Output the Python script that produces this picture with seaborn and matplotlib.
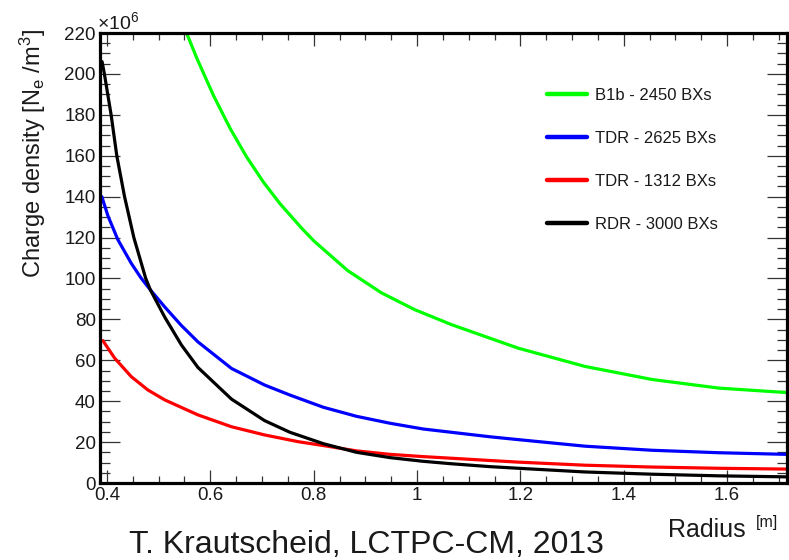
import matplotlib
matplotlib.use("Agg")
import matplotlib.pyplot as plt
from matplotlib.ticker import MultipleLocator
import pandas as pd
import seaborn as sns

# values (density in units of 1e6 N_e/m^3)
green_r = [0.554, 0.574, 0.606, 0.638, 0.670, 0.703, 0.735, 0.777, 0.801, 0.866, 0.931, 0.995,
           1.067, 1.196, 1.325, 1.455, 1.584, 1.716]
green_v = [220, 207.6, 189.5, 173.5, 159.5, 147.0, 136.5, 124.5, 118.2, 103.8, 93.0, 84.8,
           77.4, 65.9, 57.0, 50.6, 46.4, 44.2]

blue_r = [0.390, 0.402, 0.421, 0.447, 0.466, 0.484, 0.512, 0.544, 0.576, 0.641, 0.705, 0.754,
          0.819, 0.883, 0.948, 1.012, 1.141, 1.196, 1.325, 1.455, 1.584, 1.716]
blue_v = [140.0, 130.5, 119.0, 107.4, 100.2, 94.4, 86.0, 77.0, 69.0, 56.0, 47.9, 43.0,
          37.0, 32.6, 29.2, 26.4, 22.6, 21.2, 18.0, 16.0, 14.8, 14.0]

red_r = [0.392, 0.415, 0.447, 0.479, 0.512, 0.576, 0.641, 0.705, 0.770, 0.819, 0.883, 0.948,
         1.012, 1.067, 1.141, 1.196, 1.325, 1.455, 1.584, 1.716]
red_v = [69.6, 61.0, 52.0, 45.5, 40.6, 33.3, 27.5, 23.5, 20.2, 18.3, 15.7, 14.0,
         12.9, 12.1, 11.0, 10.2, 8.7, 7.8, 7.2, 6.8]

black_r = [0.3905, 0.395, 0.408, 0.419, 0.434, 0.452, 0.475, 0.484, 0.512, 0.544, 0.576, 0.641,
           0.705, 0.754, 0.819, 0.883, 0.948, 1.012, 1.067, 1.141, 1.196, 1.325, 1.455, 1.584, 1.716]
black_v = [206.0, 200.0, 180.0, 160.0, 140.0, 120.0, 100.0, 94.4, 81.0, 67.5, 56.5, 41.0,
           30.5, 24.8, 19.2, 15.0, 12.4, 10.6, 9.4, 8.0, 7.2, 5.4, 4.3, 3.5, 3.0]

labels = ["B1b - 2450 BXs", "TDR - 2625 BXs", "TDR - 1312 BXs", "RDR - 3000 BXs"]
colors = ["#00ff00", "#0000ff", "#ff0000", "#000000"]
x_ticks = [0.4, 0.6, 0.8, 1.0, 1.2, 1.4, 1.6]
x_ticklabels = ["0.4", "0.6", "0.8", "1", "1.2", "1.4", "1.6"]

frames = []
for lab, r, v in zip(labels, [green_r, blue_r, red_r, black_r], [green_v, blue_v, red_v, black_v]):
    frames.append(pd.DataFrame({"radius": r, "density": v, "series": lab}))
df = pd.concat(frames, ignore_index=True)

sns.set_style("ticks")
plt.rcParams["font.family"] = ["Liberation Sans", "DejaVu Sans"]
plt.rcParams["mathtext.fontset"] = "custom"
plt.rcParams["mathtext.rm"] = "Liberation Sans"
plt.rcParams["mathtext.it"] = "Liberation Sans:italic"
plt.rcParams["mathtext.bf"] = "Liberation Sans:bold"

txt = "#1a1a1a"
fig = plt.figure(figsize=(7.89, 5.60), dpi=100)
ax = fig.add_axes([100 / 789, 1 - 483 / 560, 687 / 789, 450 / 560])

sns.lineplot(data=df, x="radius", y="density", hue="series", hue_order=labels,
             palette=dict(zip(labels, colors)), estimator=None, sort=False,
             linewidth=2.3, ax=ax)

ax.set_xlim(0.3865, 1.716)
ax.set_ylim(0, 220)
ax.xaxis.set_minor_locator(MultipleLocator(0.05))
ax.yaxis.set_major_locator(MultipleLocator(20))
ax.yaxis.set_minor_locator(MultipleLocator(5))
ax.set_xticks(x_ticks)
ax.set_xticklabels(x_ticklabels)

for s in ax.spines.values():
    s.set_linewidth(2.3)
    s.set_color("black")
ax.tick_params(axis="both", which="both", direction="in", colors="#333333",
               labelcolor=txt, labelsize=13.5, width=0.9)
ax.tick_params(axis="y", which="major", length=14.5, left=True, right=True, pad=3)
ax.tick_params(axis="y", which="minor", length=7.2, left=True, right=True)
ax.tick_params(axis="x", which="major", length=9.5, top=True, bottom=True, pad=3)
ax.tick_params(axis="x", which="minor", length=5, top=True, bottom=True)
ax.set_xlabel("")
ax.set_ylabel("")

fig.text(33 / 789, 1 - 29 / 560, r"Charge density [N$_{\mathrm{e}}$ /m$^{3}$]",
         rotation=90, ha="center", va="top", fontsize=17, color=txt)
fig.text(97 / 789, 1 - 29 / 560, r"×10$^{6}$", ha="left", va="baseline",
         fontsize=14, color=txt)
fig.text(746 / 789, 1 - 537 / 560, "Radius", ha="right", va="baseline",
         fontsize=18, color=txt)
fig.text(756 / 789, 1 - 527 / 560, "[m]", ha="left", va="baseline",
         fontsize=11.5, color=txt)
fig.text(366 / 789, 1 - 553 / 560, "T. Krautscheid, LCTPC-CM, 2013", ha="center",
         va="baseline", fontsize=23, color=txt)

handles, labs = ax.get_legend_handles_labels()
leg = ax.legend(handles, labs, loc="upper left", bbox_to_anchor=(532 / 789, 1 - 73 / 560),
                bbox_transform=fig.transFigure, frameon=False, fontsize=12,
                handlelength=2.4, labelspacing=1.68, handletextpad=0.5)
for line in leg.get_lines():
    line.set_linewidth(3.2)
for t in leg.get_texts():
    t.set_color(txt)

fig.savefig("out.png", dpi=100)
